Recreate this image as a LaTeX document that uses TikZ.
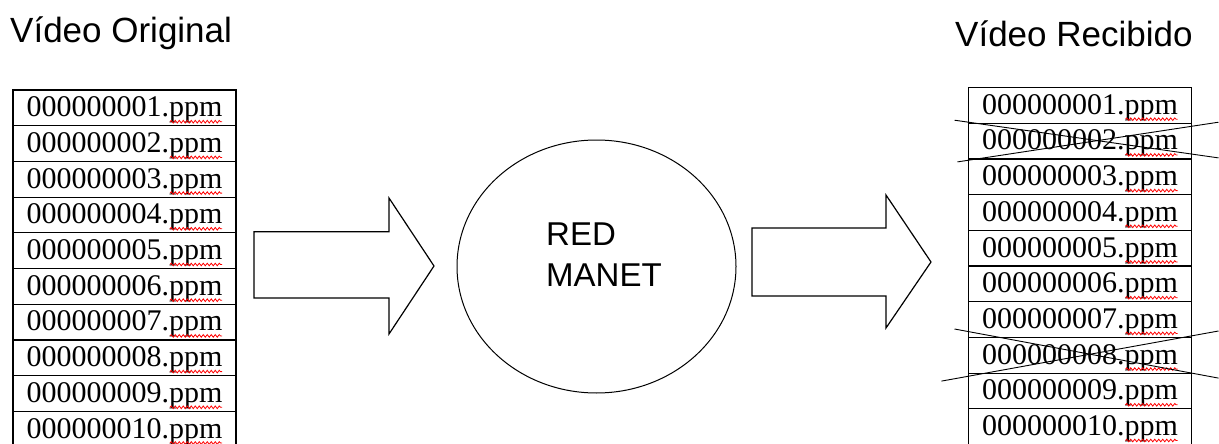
\documentclass[tikz,border=0pt]{standalone}
\usepackage{fontspec}
\setmainfont{Liberation Serif}
\newfontfamily\arialfont{Liberation Sans}
\usetikzlibrary{shapes,calc,positioning,decorations.pathmorphing}

\newcommand{\fname}[1]{\ifnum#1<10 00000000#1\else 0000000#1\fi.ppm}

\tikzset{
  filebox/.style={draw, rectangle, line width=1.2pt, outer sep=0pt, inner sep=0pt,
    minimum width=223pt, text height=26.7pt, text depth=9pt,
    font=\fontsize{30}{35}\selectfont},
  title/.style={anchor=base west, inner sep=0pt, font=\arialfont\fontsize{35}{42}\selectfont},
  spell/.style={red, line width=0.8pt, decorate,
    decoration={snake, amplitude=1.3pt, segment length=4pt}},
  cross/.style={line width=0.9pt}
}

\begin{document}
\begin{tikzpicture}[x=1pt, y=-1pt]
  \useasboundingbox (0,0) rectangle (1219,444);

  \node[title] (tin) at (10,43) {Vídeo Original};
  \node[title] (tout) at (955,47) {Vídeo Recibido};

  % frames
  \node[filebox] (o1) at (124.5,107.85) {\fname{1}};
  \node[filebox] (r1) at (1080,105.35) {\fname{1}};
  \foreach \i [count=\p] in {2,...,10} {
    \node[filebox, below=0pt of o\p] (o\i) {\fname{\i}};
    \node[filebox, below=0pt of r\p] (r\i) {\fname{\i}};
  }
  \foreach \i in {1,...,10} {
    \draw[spell] ([xshift=-66pt,yshift=4pt]o\i.south east) -- ++(52,0);
    \draw[spell] ([xshift=-66pt,yshift=4pt]r\i.south east) -- ++(52,0);
  }

  % network
  \node[ellipse, draw, line width=1pt, minimum width=279pt, minimum height=253pt] (red) at (596.5,266.5) {};
  \node[anchor=north west, align=left, inner sep=0pt, font=\arialfont\fontsize{33}{41}\selectfont]
    (net) at ($(red.center)+(-50.5,-43.5)$) {RED\\MANET};

  \draw[line width=1.2pt] (254,231.7) -- (389,231.7) -- (389,198) -- (434,266)
    -- (389,334) -- (389,298) -- (254,298) -- cycle;
  \draw[line width=1.2pt] (752,228) -- (886,228) -- (886,195) -- (931,262)
    -- (886,328) -- (886,296) -- (752,296) -- cycle;

  % lost frames
  \draw[cross] ($(r2.north west)+(-14,-3)$) -- ($(r2.south east)+(27,-1)$);
  \draw[cross] ($(r2.south west)+(-11,3)$) -- ($(r2.north east)+(27,-1)$);
  \draw[cross] ($(r8.north west)+(-14,-8.4)$) -- ($(r8.south east)+(27,5)$);
  \draw[cross] ($(r8.south west)+(-27,8)$) -- ($(r8.north east)+(27,-6.4)$);

\end{tikzpicture}
\end{document}
